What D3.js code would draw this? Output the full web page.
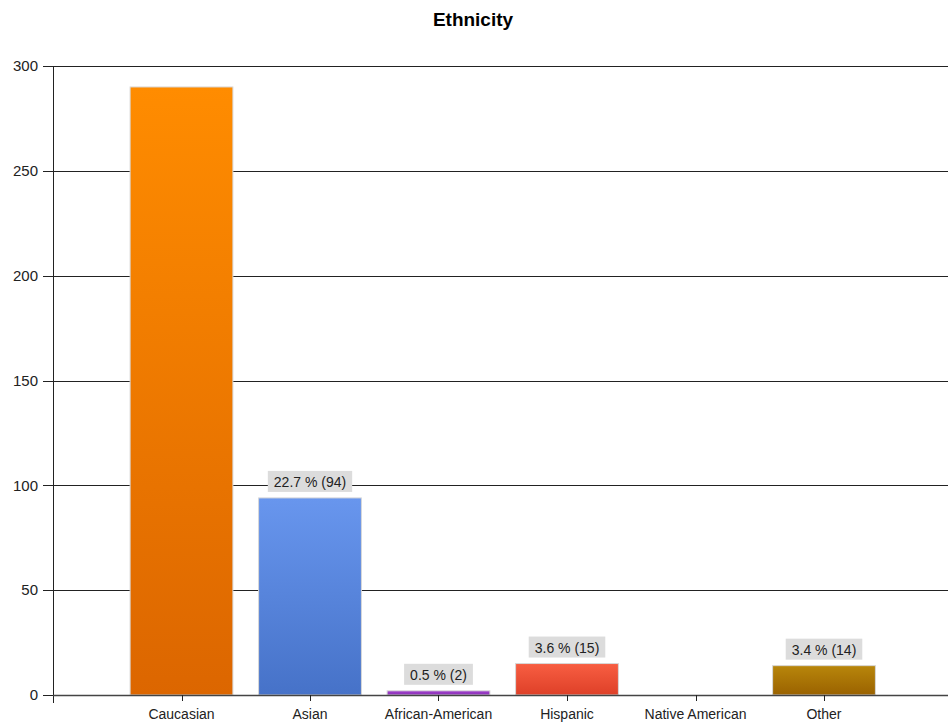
<!DOCTYPE html>
<html><head><meta charset="utf-8">
<script src="https://cdn.jsdelivr.net/npm/d3@7"></script>
<style>body{margin:0;background:#fff;overflow:hidden}svg{display:block}text{font-family:"Liberation Sans",Arial,sans-serif}</style>
</head><body><svg id="c" width="948" height="727"></svg>
<script>
const categories = ["Caucasian","Asian","African-American","Hispanic","Native American","Other"];
const values = [290, 94, 2, 15, 0, 14];
const yTicks = [0, 50, 100, 150, 200, 250, 300];
const topColors = ["#ff8c00","#6896ee","#a040cc","#f85e42","#888888","#b8860b"];
const bottomColors = ["#dc6600","#4672c8","#8a30b8","#de4028","#666666","#9a6200"];
const title = "Ethnicity";

const total = d3.sum(values);
const svg = d3.select("#c");
const x = d3.scaleLinear().domain([0, categories.length + 1]).range([53, 952.5]);
const y = d3.scaleLinear().domain([0, 300]).range([695, 66]);
const bw = (x(1) - x(0)) * 0.8;

const defs = svg.append("defs");
categories.forEach((c, i) => {
  const g = defs.append("linearGradient").attr("id", "g" + i).attr("x1", 0).attr("y1", 0).attr("x2", 0).attr("y2", 1);
  g.append("stop").attr("offset", "0%").attr("stop-color", topColors[i]);
  g.append("stop").attr("offset", "100%").attr("stop-color", bottomColors[i]);
});

svg.append("text").attr("x", 473).attr("y", 26).attr("text-anchor", "middle")
  .attr("font-weight", "bold").attr("font-size", 19).text(title);

// gridlines + y ticks
svg.append("g").selectAll("line").data(yTicks).join("line")
  .attr("x1", 43).attr("x2", 948).attr("y1", d => Math.round(y(d)) + 0.5).attr("y2", d => Math.round(y(d)) + 0.5)
  .attr("stroke", "#222").attr("stroke-width", 1);
svg.append("g").selectAll("text").data(yTicks).join("text")
  .attr("x", 38).attr("y", d => y(d)).attr("dy", "0.35em").attr("text-anchor", "end")
  .attr("font-size", 15).attr("fill", "#222").text(d => d);

// y axis line
svg.append("line").attr("x1", 53.5).attr("x2", 53.5).attr("y1", y(300)).attr("y2", 703)
  .attr("stroke", "#222");

// bars
svg.append("g").selectAll("rect").data(values).join("rect")
  .attr("x", (d, i) => x(i + 1) - bw / 2).attr("width", bw)
  .attr("y", d => y(d)).attr("height", d => y(0) - y(d))
  .attr("fill", (d, i) => "url(#g" + i + ")")
  .attr("stroke", (d) => d > 0 ? "#d8d8d8" : "none").attr("stroke-width", 1);

// x axis
svg.append("line").attr("x1", 53).attr("x2", 948).attr("y1", 695.5).attr("y2", 695.5).attr("stroke", "#444").attr("stroke-width", 1.5);
svg.append("g").selectAll("line").data(categories).join("line")
  .attr("x1", (d, i) => Math.round(x(i + 1)) + 0.5).attr("x2", (d, i) => Math.round(x(i + 1)) + 0.5)
  .attr("y1", 695).attr("y2", 701).attr("stroke", "#222");
svg.append("g").selectAll("text").data(categories).join("text")
  .attr("x", (d, i) => x(i + 1)).attr("y", 719).attr("text-anchor", "middle")
  .attr("font-size", 14).attr("fill", "#222").text(d => d);

// value labels
const lg = svg.append("g");
values.forEach((v, i) => {
  if (v <= 0) return;
  const top = y(v) - 27;
  if (top < y(300)) return;
  const label = (v / total * 100).toFixed(1) + " % (" + v + ")";
  const t = lg.append("text").attr("x", x(i + 1)).attr("y", y(v) - 11).attr("text-anchor", "middle")
    .attr("font-size", 14).attr("fill", "#222").text(label);
  const bb = t.node().getBBox();
  lg.insert("rect", "text").attr("x", bb.x - 6).attr("y", y(v) - 27).attr("width", bb.width + 12).attr("height", 21)
    .attr("fill", "#dcdcdc");
});
</script></body></html>
